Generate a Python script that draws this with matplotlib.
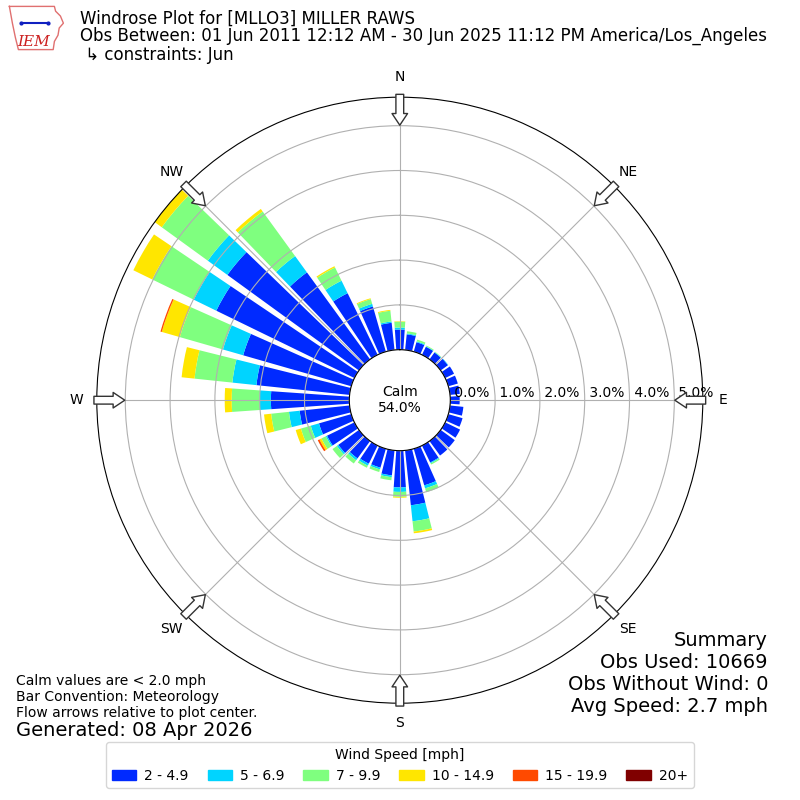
import numpy as np
import matplotlib.pyplot as plt
from matplotlib.patches import Patch

# direction bins (deg, meteorological) and frequency (%) per speed bin
directions = np.arange(0, 360, 10)
speed_labels = ["2 - 4.9", "5 - 6.9", "7 - 9.9", "10 - 14.9", "15 - 19.9", "20+"]
speed_colors = ["#002aff", "#00d4ff", "#7fff7f", "#ffe600", "#ff4a00", "#800000"]

spd_2_5 = [0.45, 0.35, 0.22, 0.20, 0.19, 0.20, 0.22, 0.22, 0.22, 0.21, 0.30, 0.33,
           0.37, 0.39, 0.40, 0.42, 0.85, 1.23, 0.82, 0.56, 0.44, 0.45, 0.48, 0.57,
           0.68, 0.75, 1.12, 1.75, 2.09, 2.51, 3.43, 3.63, 2.40, 1.53, 1.05, 0.61]
spd_5_7 = [0.045, 0.02, 0.02, 0.01, 0.01, 0.01, 0.0, 0.0, 0.0, 0.0, 0.0, 0.0,
           0.0, 0.0, 0.0, 0.02, 0.07, 0.36, 0.10, 0.04, 0.04, 0.05, 0.05, 0.04,
           0.03, 0.19, 0.24, 0.25, 0.54, 0.47, 0.56, 0.54, 0.45, 0.31, 0.06, 0.03]
spd_7_10 = [0.13, 0.05, 0.04, 0.02, 0.01, 0.0, 0.0, 0.0, 0.0, 0.0, 0.0, 0.0,
            0.0, 0.0, 0.0, 0.03, 0.09, 0.23, 0.11, 0.07, 0.06, 0.05, 0.09, 0.12,
            0.11, 0.23, 0.40, 0.625, 0.85, 1.00, 1.03, 1.27, 1.23, 0.33, 0.11, 0.24]
spd_10_15 = [0.01, 0.0, 0.0, 0.0, 0.0, 0.0, 0.0, 0.0, 0.0, 0.0, 0.0, 0.0,
             0.0, 0.0, 0.0, 0.0, 0.0, 0.04, 0.02, 0.0, 0.0, 0.0, 0.0, 0.0,
             0.05, 0.12, 0.16, 0.156, 0.29, 0.42, 0.47, 0.40, 0.07, 0.03, 0.02, 0.02]
spd_15_20 = [0.0] * 24 + [0.04, 0.0, 0.0, 0.0, 0.0, 0.03, 0.0, 0.0, 0.0, 0.0, 0.0, 0.0]
spd_20 = [0.0] * 36

series = [spd_2_5, spd_5_7, spd_7_10, spd_10_15, spd_15_20, spd_20]
calm_pct = 54.0
rticks = [0, 1, 2, 3, 4, 5]
compass = ["N", "NE", "E", "SE", "S", "SW", "W", "NW"]

fig = plt.figure(figsize=(8, 8), dpi=100)
ax = fig.add_axes([0.121, 0.121, 0.7575, 0.7575], projection="polar")
ax.set_theta_zero_location("N")
ax.set_theta_direction(-1)
ax.set_rorigin(-1.127)
ax.set_ylim(0, 5.636)

theta = np.deg2rad(directions)
base = np.zeros(len(directions))
for vals, col, lab in zip(series, speed_colors, speed_labels):
    vals = np.array(vals)
    ax.bar(theta, vals, width=np.deg2rad(8), bottom=base, color=col, label=lab)
    base = base + vals

ax.set_thetagrids(range(0, 360, 45), compass, fontsize=10)
ax.tick_params(axis="x", pad=4)
ax.set_rgrids(rticks, labels=[""] * len(rticks))
for v in rticks:
    ax.text(np.deg2rad(90), v, " %.1f%%" % v, ha="left", va="bottom", fontsize=10)
ax.grid(True, color="#b0b0b0", lw=0.8)

ax.text(0.5, 0.5, "Calm\n%.1f%%" % calm_pct, transform=ax.transAxes,
        ha="center", va="center", fontsize=10)

# flow arrows at the edge
for ang in range(0, 360, 45):
    th = np.deg2rad(ang)
    ax.annotate("", xy=(th, 5.011), xytext=(th, 5.70),
                arrowprops=dict(arrowstyle="simple,head_length=0.6,head_width=0.8,tail_width=0.4",
                                fc="white", ec="#333333", lw=1, shrinkA=0, shrinkB=0,
                                mutation_scale=14),
                annotation_clip=False, zorder=6)

# titles
fig.text(0.1, 0.976, "Windrose Plot for [MLLO3] MILLER RAWS", fontsize=12, va="center")
fig.text(0.1, 0.955, "Obs Between: 01 Jun 2011 12:12 AM - 30 Jun 2025 11:12 PM America/Los_Angeles",
         fontsize=12, va="center")
fig.text(0.1, 0.931, " \u21b3 constraints: Jun", fontsize=12, va="center")

fig.text(0.02, 0.158, "Calm values are < 2.0 mph\nBar Convention: Meteorology\n"
         "Flow arrows relative to plot center.", fontsize=10, va="top")
fig.text(0.02, 0.0875, "Generated: 08 Apr 2026", fontsize=14, va="center")
fig.text(0.96, 0.211, "Summary\nObs Used: 10669\nObs Without Wind: 0\nAvg Speed: 2.7 mph",
         fontsize=14, ha="right", va="top")

handles = [Patch(color=c) for c in speed_colors]
fig.legend(handles, speed_labels, loc="lower center", ncol=6, bbox_to_anchor=(0.5, 0.006),
           title="Wind Speed [mph]", fontsize=10, title_fontsize=10,
           handlelength=1.75, handletextpad=0.6, columnspacing=1.35)

# small IEM logo
lax = fig.add_axes([0.008, 0.935, 0.075, 0.06])
lax.set_xlim(0, 1)
lax.set_ylim(0, 1)
lax.axis("off")
lax.plot([0.05, 0.80, 0.82, 0.90, 0.95, 0.88, 0.86, 0.80, 0.78, 0.20, 0.15, 0.10, 0.05],
         [0.95, 0.95, 0.85, 0.75, 0.60, 0.50, 0.35, 0.22, 0.05, 0.05, 0.30, 0.60, 0.95],
         color="#e07070", lw=1)
lax.plot([0.25, 0.70], [0.6, 0.6], color="#1020c0", lw=1.5)
lax.plot([0.25, 0.70], [0.6, 0.6], "o", color="#1020c0", ms=2)
lax.text(0.45, 0.2, "IEM", color="#cc2020", fontsize=11, family="DejaVu Serif",
         style="italic", ha="center", va="center")

fig.savefig("out.png", dpi=100)
